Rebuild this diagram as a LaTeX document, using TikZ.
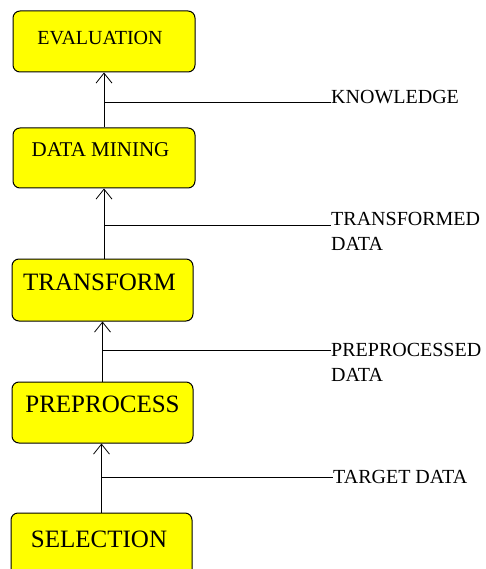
\documentclass[tikz,border=0pt]{standalone}
\usepackage{fontspec}
\setmainfont{Liberation Serif}
\usetikzlibrary{arrows.meta}
\definecolor{boxyellow}{RGB}{255,255,0}
\begin{document}
\begin{tikzpicture}[x=1pt,y=-1pt,
  stagebox/.style={draw=black, line width=1pt, fill=boxyellow, rounded corners=7pt,
    inner sep=0pt, minimum width=182pt, minimum height=61pt},
  boxtext/.style={anchor=base, inner sep=0pt},
  datalabel/.style={anchor=north west, inner sep=0pt, align=left,
    font=\fontsize{20}{25}\selectfont},
  flow/.style={line width=1pt, -{Straight Barb[length=10pt,width=16pt,line width=0.8pt]}},
  branch/.style={line width=1pt}
]
\clip (0,0) rectangle (486,569);
\fill[white] (0,0) rectangle (486,569);

% boxes
\node[stagebox] (ev) at (104,41.5) {};
\node[stagebox, minimum height=60pt] (dm) at (104,158) {};
\node[stagebox, minimum width=181pt, minimum height=62pt] (tr) at (102.5,290) {};
\node[stagebox, minimum width=181pt] (pp) at (102.5,412.5) {};
\node[stagebox, minimum width=181pt, minimum height=70pt] (sel) at (101.5,548) {};

% box texts
\node[boxtext, font=\fontsize{20}{24}\selectfont] (evt) at (100,45) {EVALUATION};
\node[boxtext, font=\fontsize{21}{24}\selectfont] (dmt) at (100.5,157) {DATA MINING};
\node[boxtext, font=\fontsize{25}{28}\selectfont] (trt) at (99.5,290) {TRANSFORM};
\node[boxtext, font=\fontsize{25}{28}\selectfont] (ppt) at (102.5,412) {PREPROCESS};
\node[boxtext, font=\fontsize{25}{28}\selectfont] (selt) at (99,547) {SELECTION};

% arrows
\draw[flow] (dm.north) -- (ev.south);
\draw[flow] (tr.north -| dm.south) -- (dm.south);
\draw[flow] (pp.north) -- (pp.north |- tr.south);
\draw[flow] (sel.north) -- (sel.north |- pp.south);

% labels
\node[datalabel] (kn) at (331,90) {KNOWLEDGE};
\node[datalabel] (td) at (331,212) {TRANSFORMED\\DATA};
\node[datalabel] (pd) at (331,343) {PREPROCESSED\\DATA};
\node[datalabel] (tg) at (333,470) {TARGET DATA};

% branch lines
\coordinate (j1) at (104,103);
\coordinate (j2) at (104,225);
\coordinate (j3) at (102.5,350);
\coordinate (j4) at (101.5,477);
\draw[branch] (j1) -- (j1 -| kn.west);
\draw[branch] (j2) -- (j2 -| td.west);
\draw[branch] (j3) -- (j3 -| pd.west);
\draw[branch] (j4) -- (j4 -| tg.west);
\end{tikzpicture}
\end{document}
